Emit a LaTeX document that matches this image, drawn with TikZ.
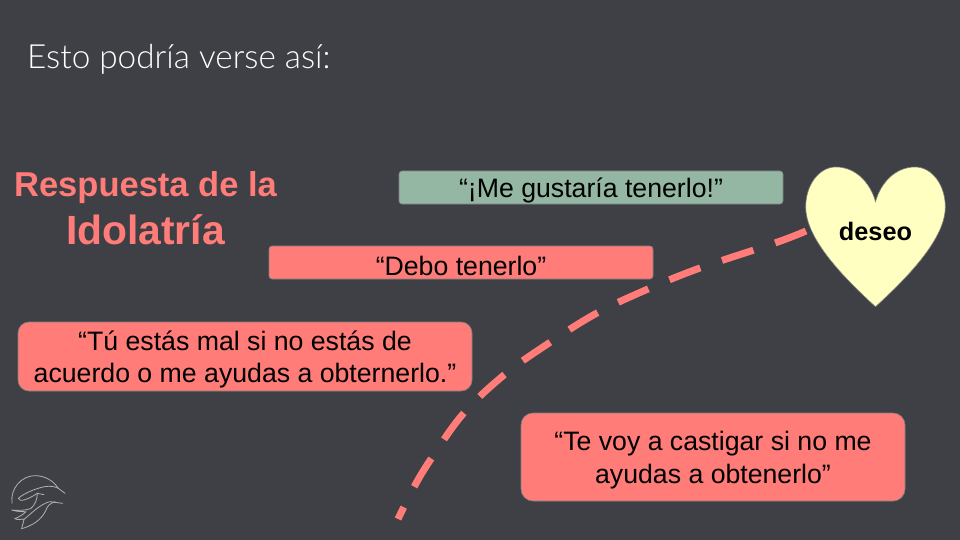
\documentclass[tikz,border=0pt]{standalone}
\usepackage{fontspec}
\setmainfont{Liberation Sans}
\newfontfamily\titlefont{Lato Light}
\definecolor{bg}{HTML}{3E4045}
\definecolor{redbox}{HTML}{FF7C79}
\definecolor{greenbox}{HTML}{93B7A3}
\definecolor{heartfill}{HTML}{FFFFC2}
\definecolor{edge}{HTML}{80807F}
\definecolor{logoc}{HTML}{B0B2B2}
\newcommand\lowered[1]{\raisebox{-3pt}[\height][\depth]{#1}}
\tikzset{
  msgbox/.style={draw=edge,line width=0.6pt,fill=redbox,text=black,align=center,inner sep=0pt,font=\fontsize{26.67}{32.5}\selectfont},
  heading/.style={text=redbox,inner sep=0pt,font=\fontsize{34.5}{40}\selectfont\bfseries},
  logoline/.style={draw=logoc,line width=0.8pt,line cap=round,line join=round},
}
\begin{document}
\begin{tikzpicture}[x=1pt,y=-1pt]
\useasboundingbox (0,0) rectangle (960,540);
\fill[bg] (0,0) rectangle (960,540);
\node[anchor=base west,text=white,inner sep=0pt,font=\fontsize{33.3}{38}\selectfont\titlefont] (title) at (27,69) {Esto podría verse así:};
\node[heading,anchor=center] (h1) at (145.5,188) {Respuesta de la};
\node[heading,anchor=center,font=\fontsize{40.8}{46}\selectfont\bfseries] (h2) at (145.5,230) {Idolatría};
\node[msgbox,fill=greenbox,rounded corners=3pt,minimum width=384pt,minimum height=33pt] (b1) at (591,187.5) {\lowered{“¡Me gustaría tenerlo!”}};
\node[msgbox,rounded corners=3pt,minimum width=384pt,minimum height=33pt] (b2) at (461,262.5) {\lowered{“Debo tenerlo”}};
\node[msgbox,rounded corners=11pt,minimum width=454pt,minimum height=69pt] (b3) at (245,356.5) {\lowered{“Tú estás mal si no estás de}\\\lowered{acuerdo o me ayudas a obternerlo.”}};
\node[msgbox,rounded corners=12pt,minimum width=384pt,minimum height=88pt] (b4) at (713,457) {\lowered{“Te voy a castigar si no me}\\\lowered{ayudas a obtenerlo”}};
% connector
\coordinate (cend) at (398,519);
\coordinate (cstart) at (806,231);
\draw[redbox,line width=7pt,dash pattern=on 33pt off 23pt]
  plot[smooth,tension=0.6] coordinates {(cstart) (775,243) (700,268) (648,289) (597,313) (549,343) (504,375) (463,414) (431,459) (414,487) (cend)};
% heart
\draw[edge,line width=0.6pt,fill=heartfill]
  (875.5,306.7) .. controls (835,270) and (805.7,235) .. (805.7,207)
  .. controls (805.7,185) and (819,167) .. (836,167)
  .. controls (855,167) and (870,182) .. (875.5,201.7)
  .. controls (881,182) and (896,167) .. (915,167)
  .. controls (932,167) and (945.3,185) .. (945.3,207)
  .. controls (945.3,235) and (916,270) .. (875.5,306.7) -- cycle;
\node[inner sep=0pt,text=black,font=\fontsize{25.3}{28}\selectfont\bfseries] (des) at (875.5,231.5) {deseo};
% logo
\begin{scope}[shift={(0,460)},x=0.3333pt,y=-0.3333pt]
\draw[logoline] (36,130) .. controls (30,85) and (65,47) .. (105,47) .. controls (135,47) and (160,62) .. (175,85) -- (195,100);
\draw[logoline] (175,85) .. controls (150,72) and (120,82) .. (95,92) .. controls (80,98) and (62,108) .. (55,115) .. controls (58,128) and (85,118) .. (112,100) -- (132,104);
\draw[logoline] (112,100) .. controls (112,118) and (105,135) .. (92,146) .. controls (75,152) and (50,152) .. (35,150) .. controls (50,155) and (65,155) .. (78,155) .. controls (68,165) and (55,172) .. (44,176) .. controls (55,182) and (68,175) .. (72,178) .. controls (70,190) and (66,198) .. (65,206);
\draw[logoline] (72,178) .. controls (95,160) and (120,132) .. (150,125) -- (188,130);
\draw[logoline] (65,206) .. controls (95,198) and (125,180) .. (138,150) .. controls (142,138) and (150,130) .. (165,125);
\end{scope}
\end{tikzpicture}
\end{document}
